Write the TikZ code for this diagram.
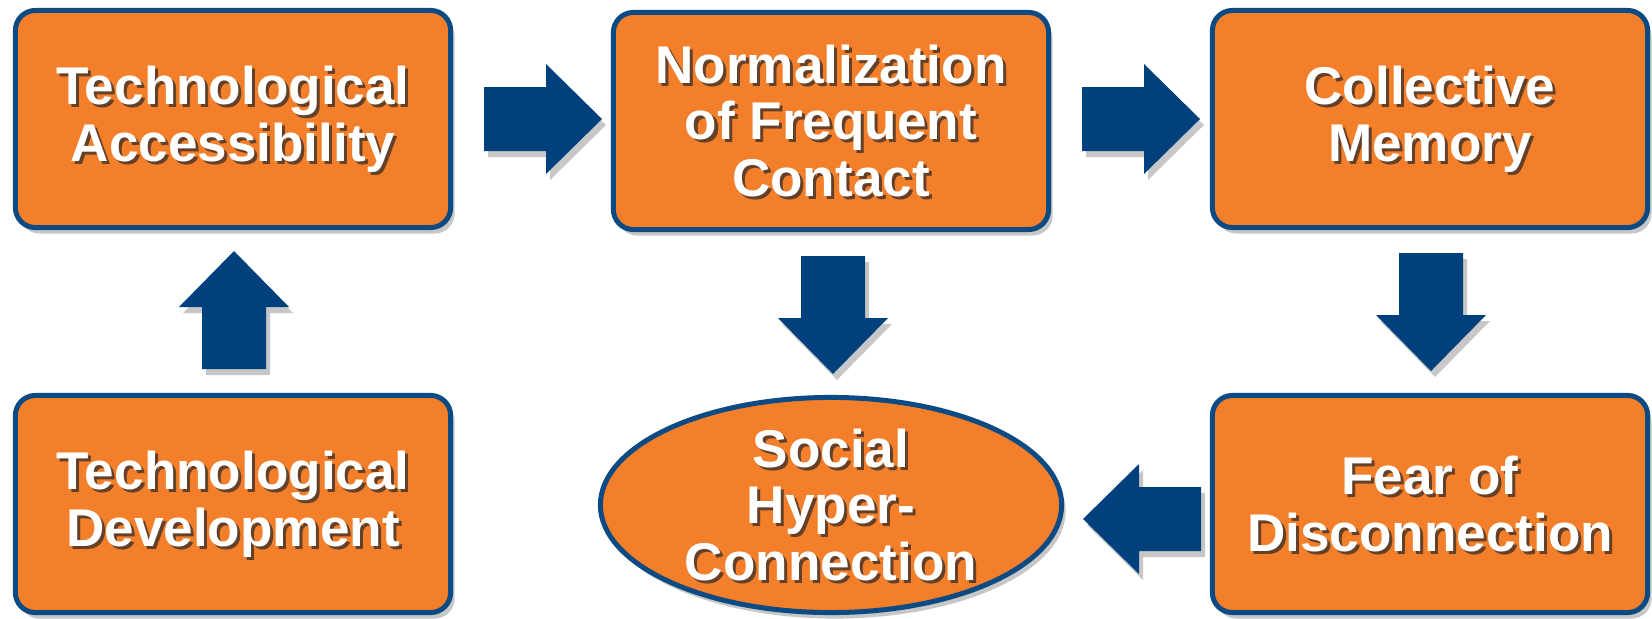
\documentclass[tikz,border=0pt]{standalone}
\usepackage{fontspec}
\setmainfont{Liberation Sans}
\usetikzlibrary{shapes.geometric,shadows}
\definecolor{boxorange}{HTML}{F47F2A}
\definecolor{edgeblue}{HTML}{0B4A82}
\definecolor{arrowblue}{HTML}{00417D}
\newcommand\boxtext[3]{%
  \node[lblsh] (#2s) at ([xshift=0.03cm,yshift=-0.03cm]#1.center) {#3};
  \node[lbl] (#2) at (#1.center) {#3};}
\tikzset{
  softshadow/.style={drop shadow={shadow xshift=0.04cm, shadow yshift=-0.06cm, opacity=0.22, fill=black}},
  box/.style={draw=edgeblue, line width=0.05cm, fill=boxorange, rounded corners=0.2cm,
    minimum width=4.35cm, minimum height=2.17cm, inner sep=0pt, softshadow},
  oval/.style={ellipse, draw=edgeblue, line width=0.05cm, fill=boxorange,
    minimum width=4.61cm, minimum height=2.15cm, inner sep=0pt, softshadow},
  lbl/.style={text=white, align=center, inner sep=0pt,
    font=\fontsize{15.1}{16.2}\selectfont\bfseries},
  lblsh/.style={lbl, text=black!85, text opacity=0.7},
  blockarrow/.pic={\fill[arrowblue, softshadow] (0,-32)--(62,-32)--(62,-55)--(118,0)--(62,55)--(62,32)--(0,32)--cycle;}
}
\begin{document}
\begin{tikzpicture}[x=0.01cm,y=-0.01cm]
\useasboundingbox (0,0) rectangle (1652,618);
% boxes
\node[box] (ta) at (233,119) {};
\node[box] (nfc) at (831,121) {};
\node[box] (cm) at (1430,119) {};
\node[box] (td) at (233,504) {};
\node[box] (fd) at (1430,504) {};
\node[oval] (sh) at (831,505) {};
% texts
\boxtext{ta}{tat}{Technological\\Accessibility}
\boxtext{nfc}{nfct}{Normalization\\of Frequent\\Contact}
\boxtext{cm}{cmt}{Collective\\Memory}
\boxtext{td}{tdt}{Technological\\Development}
\boxtext{fd}{fdt}{Fear of\\Disconnection}
\boxtext{sh}{sht}{Social\\Hyper-\\Connection}
% block arrows
\pic (ar1) at (484,119) {blockarrow};
\pic (ar2) at (1082,119) {blockarrow};
\pic[rotate=-90] (ad1) at (833,256) {blockarrow};
\pic[rotate=-90] (ad2) at (1431,253) {blockarrow};
\pic[rotate=90] (au) at (234,369) {blockarrow};
\pic[rotate=180] (al) at (1201,519) {blockarrow};
\end{tikzpicture}
\end{document}
